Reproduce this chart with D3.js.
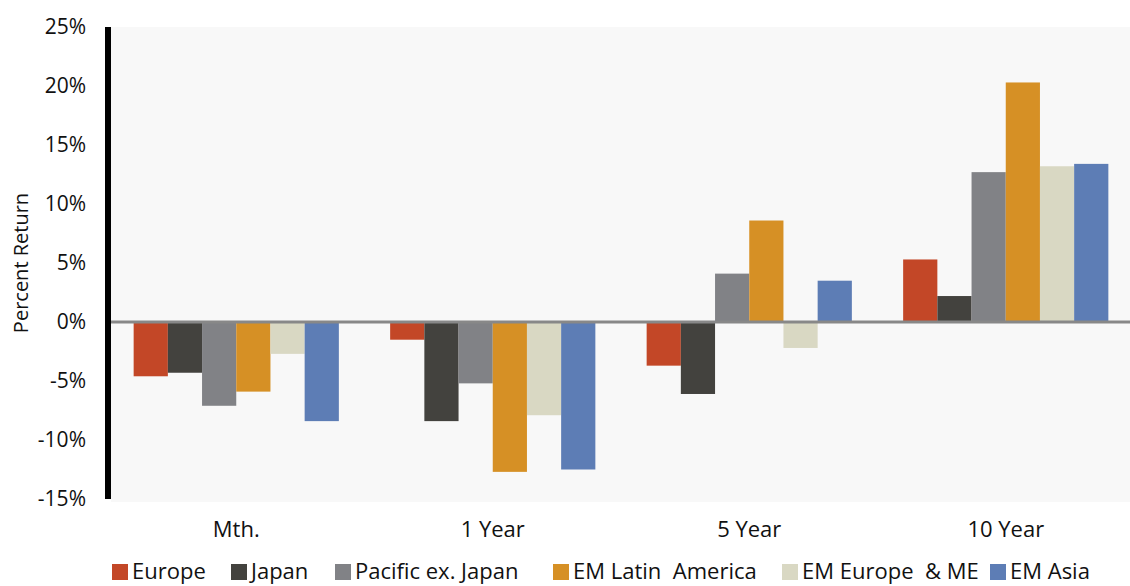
<!DOCTYPE html>
<html>
<head>
<meta charset="utf-8">
<script src="https://cdn.jsdelivr.net/npm/d3@7"></script>
<style>
  body { margin: 0; background: #fff; }
  text { font-family: "Open Sans", sans-serif; fill: #111; }
</style>
</head>
<body>
<div id="chart"></div>
<script>
// Data (percent returns)
const periods = ["Mth.", "1 Year", "5 Year", "10 Year"];
const regions = ["Europe", "Japan", "Pacific ex. Japan", "EM Latin  America", "EM Europe  & ME", "EM Asia"];
const europe   = [-4.6, -1.5, -3.7, 5.3];
const japan    = [-4.3, -8.4, -6.1, 2.2];
const pacific  = [-7.1, -5.2, 4.1, 12.7];
const emLatAm  = [-5.9, -12.7, 8.6, 20.3];
const emEurope = [-2.7, -7.9, -2.2, 13.2];
const emAsia   = [-8.4, -12.5, 3.5, 13.4];
const yTicks = [-15, -10, -5, 0, 5, 10, 15, 20, 25];
const colors = ["#C34727", "#43423E", "#818286", "#D69025", "#D9D8C3", "#5D7DB5"];

const series = [europe, japan, pacific, emLatAm, emEurope, emAsia];

const width = 1130, height = 586;
const plot = { left: 108, right: 1134, top: 27, bottom: 499 };

const svg = d3.select("#chart").append("svg")
    .attr("width", width)
    .attr("height", height);

const x0 = d3.scaleBand()
    .domain(periods)
    .range([plot.left, plot.right])
    .paddingInner(0.2)
    .paddingOuter(0.1);

const x1 = d3.scaleBand()
    .domain(d3.range(regions.length))
    .range([0, x0.bandwidth()]);

const y = d3.scaleLinear()
    .domain([-15, 25])
    .range([plot.bottom, plot.top]);

// plot background
svg.append("rect")
    .attr("x", 111)
    .attr("y", plot.top)
    .attr("width", width - 111)
    .attr("height", plot.bottom - plot.top + 3)
    .attr("fill", "#F8F8F8");

// bars
const groups = svg.append("g").selectAll("g")
    .data(periods)
    .join("g")
    .attr("transform", d => `translate(${x0(d)},0)`);

groups.selectAll("rect")
    .data((p, i) => series.map((s, k) => ({ k: k, v: s[i] })))
    .join("rect")
    .attr("x", d => x1(d.k))
    .attr("width", x1.bandwidth())
    .attr("y", d => y(Math.max(0, d.v)))
    .attr("height", d => Math.abs(y(d.v) - y(0)))
    .attr("fill", d => colors[d.k]);

// zero line
svg.append("line")
    .attr("x1", plot.left)
    .attr("x2", width)
    .attr("y1", y(0))
    .attr("y2", y(0))
    .attr("stroke", "#888")
    .attr("stroke-width", 3);

// y axis
const yAxis = svg.append("g")
    .attr("transform", `translate(108,0)`)
    .call(d3.axisLeft(y).tickValues(yTicks).tickSize(0).tickPadding(22)
        .tickFormat(d => d + "%"));
yAxis.select(".domain").remove();
yAxis.selectAll("text")
    .style("font-size", "21px")
    .style("font-family", "'Open Sans', sans-serif")
    .attr("fill", "#111");

svg.append("line")
    .attr("x1", 108)
    .attr("x2", 108)
    .attr("y1", plot.top)
    .attr("y2", plot.bottom)
    .attr("stroke", "#000")
    .attr("stroke-width", 6);

// x axis labels
const xAxis = svg.append("g")
    .attr("transform", `translate(0,${plot.bottom})`)
    .call(d3.axisBottom(x0).tickSize(0).tickPadding(22));
xAxis.select(".domain").remove();
xAxis.selectAll("text")
    .style("font-size", "22px")
    .style("font-family", "'Open Sans', sans-serif")
    .attr("fill", "#111");

// y label
svg.append("text")
    .attr("transform", `translate(28,${(plot.top + plot.bottom) / 2}) rotate(-90)`)
    .attr("text-anchor", "middle")
    .style("font-size", "20px")
    .text("Percent Return");

// legend
const legendX = [112, 231, 335, 553, 782, 990];
const legend = svg.append("g").selectAll("g")
    .data(regions)
    .join("g")
    .attr("transform", (d, i) => `translate(${legendX[i]},564)`);

legend.append("rect")
    .attr("width", 16)
    .attr("height", 16)
    .attr("fill", (d, i) => colors[i]);

legend.append("text")
    .attr("x", 20)
    .attr("y", 15)
    .style("font-size", "22px")
    .attr("xml:space", "preserve")
    .style("white-space", "pre")
    .text(d => d);
</script>
</body>
</html>
